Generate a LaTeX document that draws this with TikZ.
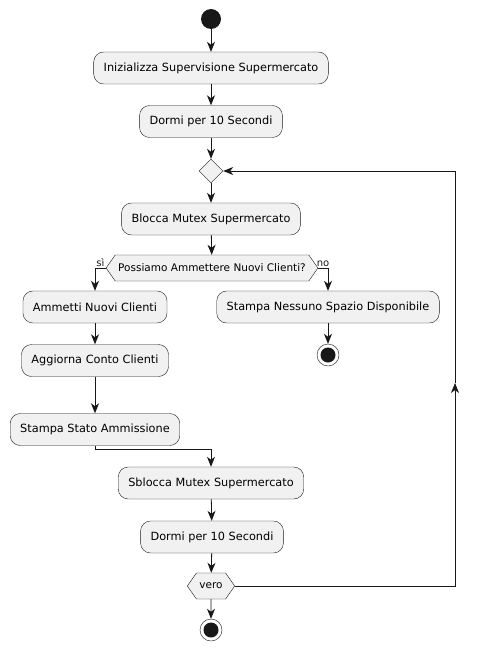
\documentclass[tikz,border=0pt]{standalone}
\usepackage{fontspec}
\setmainfont{DejaVu Sans}
\usetikzlibrary{arrows.meta, shapes.geometric, shapes.symbols}
\usepackage{xcolor}
\definecolor{boxfill}{HTML}{F1F1F1}
\definecolor{ink}{HTML}{181818}

\begin{document}
\begin{tikzpicture}[x=1pt, y=-1pt,
  action/.style={draw=ink, fill=boxfill, rounded corners=10pt,
    minimum height=32pt, inner xsep=10pt, font=\fontsize{11.3}{13}\selectfont},
  choice/.style={draw=ink, fill=boxfill, shape=signal, signal to=west and east,
    signal pointer angle=110, minimum height=26pt, inner xsep=3pt,
    font=\fontsize{10.5}{12}\selectfont},
  merge/.style={draw=ink, fill=boxfill, diamond, minimum size=24pt, inner sep=0pt},
  startdot/.style={circle, fill=ink, minimum size=20pt, inner sep=0pt},
  stopdot/.style={circle, draw=ink, fill=white, minimum size=22pt, inner sep=0pt,
    path picture={\fill[ink] (path picture bounding box.center) circle (7.5pt);}},
  branch/.style={font=\fontsize{10}{11}\selectfont, inner sep=1pt},
  flow/.style={-{Stealth[length=10pt, width=8pt, inset=3pt]}, ink, line width=0.8pt}
]
  \useasboundingbox (0,0) rectangle (480,650);

  \node[startdot] (n0) at (211, 19) {};
  \node[action] (n1) at (211, 68) {Inizializza Supervisione Supermercato};
  \node[action] (n2) at (211, 121.5) {Dormi per 10 Secondi};
  \node[merge] (n3) at (211, 171) {};
  \node[action] (n4) at (211, 219) {Blocca Mutex Supermercato};
  \node[choice] (n5) at (212, 268) {Possiamo Ammettere Nuovi Clienti?};
  \node[action] (n6) at (95, 307) {Ammetti Nuovi Clienti};
  \node[action] (n7) at (95, 360.5) {Aggiorna Conto Clienti};
  \node[action] (n8) at (95, 429.5) {Stampa Stato Ammissione};
  \node[action] (n10) at (328, 307) {Stampa Nessuno Spazio Disponibile};
  \node[stopdot] (n11) at (328, 355) {};
  \node[action] (n9) at (211, 483) {Sblocca Mutex Supermercato};
  \node[action] (n12) at (212, 537) {Dormi per 10 Secondi};
  \node[choice] (n13) at (211, 586) {vero};
  \node[stopdot] (n14) at (211, 630) {};
  \coordinate (c1) at (455, 383);

  \draw[flow] (n0) -- (n1);
  \draw[flow] (n1) -- (n2);
  \draw[flow] (n2) -- (n3);
  \draw[flow] (n3) -- (n4);
  \draw[flow] (n4) -- (n5);
  \draw[flow] (n5.west) -| node[branch, pos=0.25, above] {sì} (n6.north);
  \draw[flow] (n5.east) -| node[branch, pos=0.25, above] {no} (n10.north);
  \draw[flow] (n6) -- (n7);
  \draw[flow] (n7) -- (n8);
  \draw[flow] (n10) -- (n11);
  \draw[flow] (n8.south) -- ++(0, 4) -| (n9.north);
  \draw[flow] (n9) -- (n12);
  \draw[flow] (n12) -- (n13);
  \draw[flow] (n13) -- (n14);
  \draw[flow] (n13.east) -| (c1);
  \draw[flow] (c1) |- (n3.east);
\end{tikzpicture}
\end{document}
